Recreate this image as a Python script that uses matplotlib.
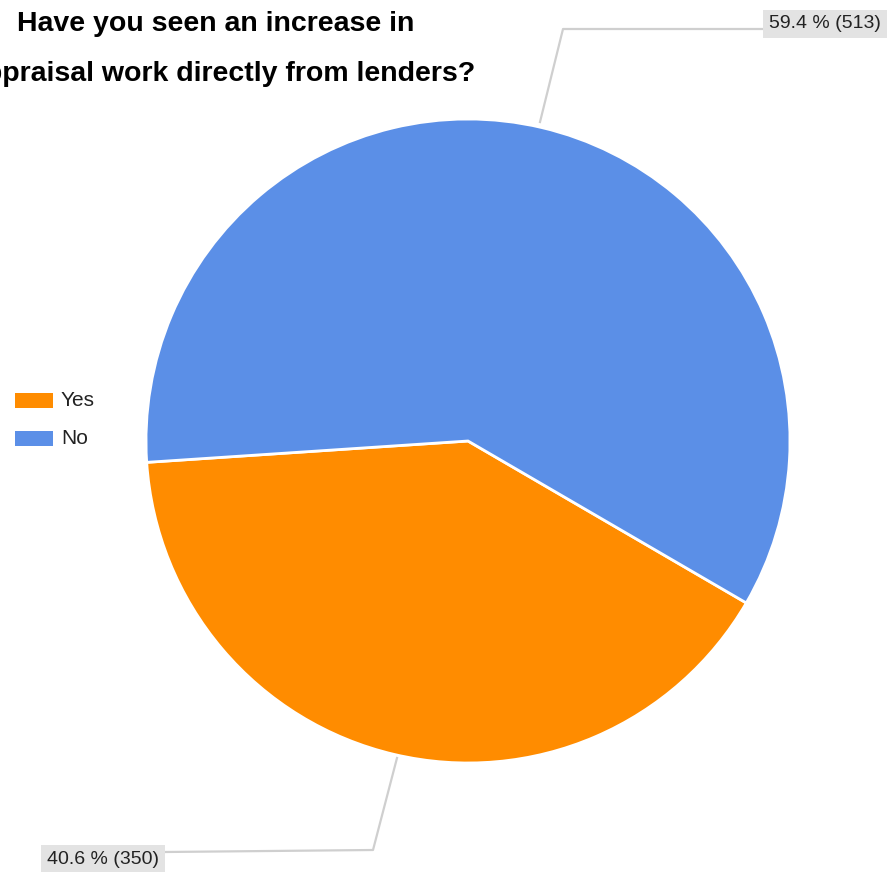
import matplotlib.pyplot as plt
from matplotlib.patches import Rectangle

plt.rcParams['font.family'] = ['Liberation Sans', 'DejaVu Sans']

categories = ['Yes', 'No']
counts = [350, 513]
colors = ['#ff8c00', '#5b8fe7']
title_lines = ['Have you seen an increase in', 'appraisal work directly from lenders?']

W, H = 891, 872
fig = plt.figure(figsize=(W / 100, H / 100), dpi=100)
ax = fig.add_axes([0, 0, 1, 1])
ax.set_xlim(0, W)
ax.set_ylim(H, 0)
ax.set_aspect('equal')
ax.axis('off')

cx, cy, r = 468, 441, 322
total = sum(counts)
shares = [c / total for c in counts]

# y axis is flipped, so run the wedges the other way round
wedges, _ = ax.pie(counts, colors=colors, center=(cx, cy), radius=r,
                   startangle=176.2, counterclock=False,
                   wedgeprops=dict(edgecolor='white', linewidth=2))
ax.set_xlim(0, W)
ax.set_ylim(H, 0)

# titles, centred and running off the left edge
ax.text(216, 24, title_lines[0], ha='center', va='center',
        fontsize=20.5, fontweight='bold', color='black')
ax.text(222, 74, title_lines[1], ha='center', va='center',
        fontsize=20.5, fontweight='bold', color='black')

# leader lines and value labels
line_col = '#cfcfcf'
label_box = dict(boxstyle='square,pad=0.3', fc='#e3e3e3', ec='none')

# No slice, top right
ax.plot([540, 563, 763], [122, 29, 29], color=line_col, lw=1.6)
ax.text(769, 24, f'{shares[1] * 100:.1f} % ({counts[1]})', ha='left', va='center',
        fontsize=14, color='#222222', bbox=label_box)

# Yes slice, bottom left
ax.plot([397, 373, 165], [758, 850, 852], color=line_col, lw=1.6)
ax.text(47, 859, f'{shares[0] * 100:.1f} % ({counts[0]})', ha='left', va='center',
        fontsize=14, color='#222222', bbox=label_box)

# legend on the left
for i, (cat, col) in enumerate(zip(categories, colors)):
    y = 400 + i * 38
    ax.add_patch(Rectangle((15, y - 7.5), 38, 15, facecolor=col, edgecolor='none'))
    ax.text(61, y, cat, ha='left', va='center', fontsize=15, color='#222222')

fig.savefig('out.png', dpi=100)
